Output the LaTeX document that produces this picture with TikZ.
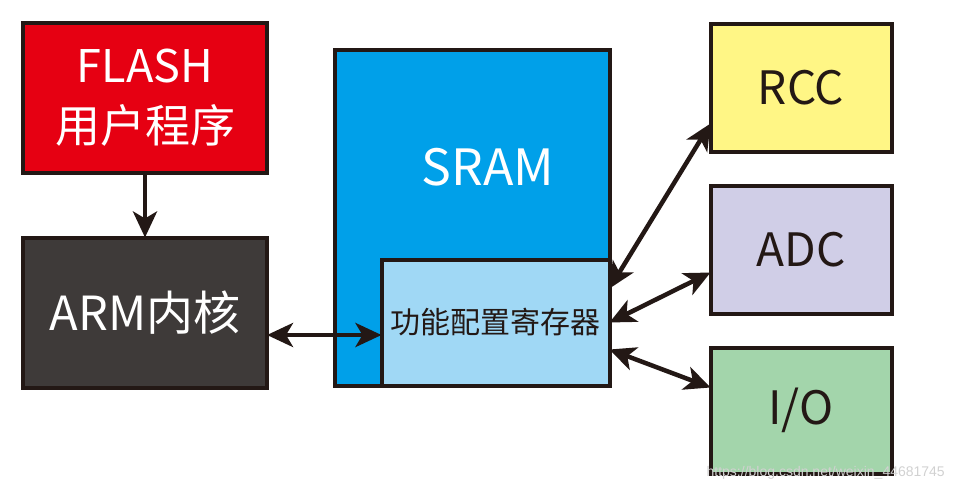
\documentclass[tikz,border=0pt]{standalone}
\usepackage{fontspec}
\setmainfont{Noto Sans CJK SC}
\newfontfamily\markfont{Liberation Sans}
\usetikzlibrary{arrows.meta}
\definecolor{flashred}{HTML}{E60012}
\definecolor{armgray}{HTML}{3E3A39}
\definecolor{sramblue}{HTML}{00A0E9}
\definecolor{reglight}{HTML}{A0D8F5}
\definecolor{rccyellow}{HTML}{FFF685}
\definecolor{adcpurple}{HTML}{D0CEE7}
\definecolor{iogreen}{HTML}{A3D5AB}
\definecolor{edge}{HTML}{231815}

\begin{document}
\begin{tikzpicture}[x=1pt,y=-1pt,
  box/.style={draw=edge,line width=4pt,inner sep=0pt,outer sep=0pt,align=center},
  link/.style={draw=edge,line width=4.5pt,arrows={-Stealth[length=26pt,width=24pt,inset=7pt]}},
  bilink/.style={draw=edge,line width=4.5pt,arrows={Stealth[length=26pt,width=24pt,inset=7pt]-Stealth[length=26pt,width=24pt,inset=7pt]}}]
\useasboundingbox (0,0) rectangle (955,493);
\node[box,fill=flashred,text=white,minimum width=244pt,minimum height=150pt,font=\fontsize{45}{60}\selectfont] (flash) at (145,98) {FLASH\\用户程序};
\node[box,fill=armgray,text=white,minimum width=244pt,minimum height=150pt,font=\fontsize{47}{50}\selectfont] (arm) at (145,312.5) {ARM内核};
\node[box,fill=sramblue,minimum width=275pt,minimum height=336pt] (sram) at (472,217.5) {};
\node[text=white,inner sep=0pt,font=\fontsize{50}{54}\selectfont] (sramtext) at (488,167) {SRAM};
\node[box,fill=reglight,text=edge,minimum width=228pt,minimum height=126pt,font=\fontsize{30}{34}\selectfont] (reg) at (495.5,322.5) {功能配置寄存器};
\node[box,fill=rccyellow,text=edge,minimum width=181pt,minimum height=128pt,font=\fontsize{46}{50}\selectfont] (rcc) at (801,87.5) {RCC};
\node[box,fill=adcpurple,text=edge,minimum width=181pt,minimum height=128pt,font=\fontsize{46}{50}\selectfont] (adc) at (801,249.5) {ADC};
\node[box,fill=iogreen,text=edge,minimum width=181pt,minimum height=126pt,font=\fontsize{46}{50}\selectfont] (io) at (801,410.5) {I/O};
\coordinate (armport) at ([yshift=-22.5pt]arm.east);
\draw[link] (flash) -- (arm);
\draw[bilink] (armport) -- (armport -| reg.west);
\draw[bilink] ([yshift=-29pt]reg.north east) -- ([yshift=-100pt]rcc.north west);
\draw[bilink] (reg.east) -- ([yshift=-23pt]adc.west);
\draw[bilink] ([yshift=-27pt]reg.east) -- ([yshift=23pt]io.west);
\node[anchor=east,text=black!18,inner sep=0pt,font=\markfont\fontsize{14}{16}\selectfont] (mark) at (945,473) {https://blog.csdn.net/weixin\_44681745};
\end{tikzpicture}
\end{document}
